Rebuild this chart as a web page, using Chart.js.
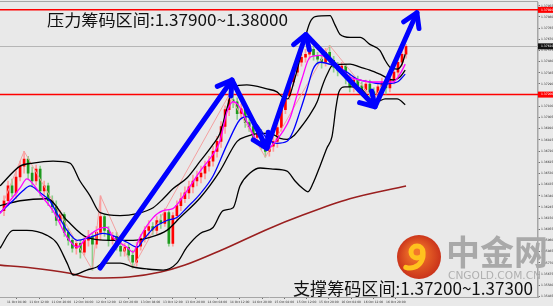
<!DOCTYPE html>
<html>
<head>
<meta charset="utf-8">
<script src="https://cdn.jsdelivr.net/npm/chart.js@4.4.0/dist/chart.umd.min.js"></script>
<style>
  html, body { margin: 0; padding: 0; background: #e9e9e9; }
  canvas { display: block; }
</style>
</head>
<body>
<canvas id="chart" width="553" height="306"></canvas>
<script>
// candles, one per bar
const openP = [1.36214, 1.36298, 1.36424, 1.36365, 1.36500, 1.36592, 1.36651, 1.36533, 1.36466, 1.36567,
  1.36382, 1.36424, 1.36298, 1.36248, 1.36130, 1.36180, 1.36029, 1.35962, 1.35894, 1.35936,
  1.35861, 1.35962, 1.35995, 1.35928, 1.36029, 1.36163, 1.36046, 1.35962, 1.35995, 1.35911,
  1.35869, 1.35903, 1.35835, 1.35777, 1.35911, 1.35978, 1.36046, 1.36079, 1.36046, 1.36130,
  1.36105, 1.36197, 1.35936, 1.36172, 1.36256, 1.36315, 1.36365, 1.36416, 1.36466, 1.36500,
  1.36533, 1.36592, 1.36634, 1.36718, 1.36803, 1.36929, 1.37072, 1.37156, 1.37139, 1.37038,
  1.37080, 1.36962, 1.36929, 1.36836, 1.36870, 1.36777, 1.36718, 1.36761, 1.36803, 1.36920,
  1.37072, 1.37189, 1.37307, 1.37391, 1.37475, 1.37517, 1.37543, 1.37585, 1.37534, 1.37501,
  1.37475, 1.37559, 1.37492, 1.37433, 1.37408, 1.37442, 1.37341, 1.37265, 1.37324, 1.37274,
  1.37240, 1.37290, 1.37223, 1.37198, 1.37265, 1.37307, 1.37257, 1.37324, 1.37391, 1.37475,
  1.37543];
const highP = [1.36340, 1.36466, 1.36483, 1.36550, 1.36634, 1.36718, 1.36676, 1.36584, 1.36601, 1.36592,
  1.36466, 1.36449, 1.36340, 1.36298, 1.36214, 1.36197, 1.36063, 1.35995, 1.35962, 1.35962,
  1.35995, 1.36046, 1.36029, 1.36079, 1.36340, 1.36180, 1.36079, 1.36029, 1.36029, 1.35962,
  1.35936, 1.35928, 1.35877, 1.35945, 1.36012, 1.36079, 1.36130, 1.36113, 1.36163, 1.36180,
  1.36231, 1.36214, 1.36197, 1.36298, 1.36365, 1.36416, 1.36466, 1.36517, 1.36550, 1.36592,
  1.36634, 1.36676, 1.36761, 1.36845, 1.36971, 1.37105, 1.37198, 1.37198, 1.37173, 1.37122,
  1.37105, 1.37004, 1.36971, 1.36904, 1.36904, 1.36819, 1.36803, 1.36845, 1.36954, 1.37105,
  1.37223, 1.37341, 1.37425, 1.37509, 1.37559, 1.37585, 1.37618, 1.37610, 1.37559, 1.37543,
  1.37593, 1.37618, 1.37526, 1.37475, 1.37475, 1.37459, 1.37374, 1.37358, 1.37358, 1.37307,
  1.37324, 1.37324, 1.37257, 1.37290, 1.37341, 1.37341, 1.37358, 1.37425, 1.37509, 1.37576,
  1.37627];
const lowP = [1.36172, 1.36256, 1.36332, 1.36315, 1.36466, 1.36533, 1.36483, 1.36416, 1.36433, 1.36340,
  1.36315, 1.36256, 1.36197, 1.36088, 1.36096, 1.35995, 1.35920, 1.35861, 1.35844, 1.35810,
  1.35835, 1.35911, 1.35709, 1.35894, 1.35962, 1.35995, 1.35911, 1.35928, 1.35877, 1.35827,
  1.35827, 1.35793, 1.35726, 1.35743, 1.35877, 1.35945, 1.35995, 1.36012, 1.36012, 1.36063,
  1.36079, 1.35911, 1.35911, 1.36130, 1.36214, 1.36281, 1.36315, 1.36365, 1.36424, 1.36449,
  1.36483, 1.36550, 1.36592, 1.36668, 1.36752, 1.36870, 1.37021, 1.37089, 1.36988, 1.37004,
  1.36920, 1.36887, 1.36803, 1.36794, 1.36735, 1.36668, 1.36676, 1.36718, 1.36752, 1.36887,
  1.37038, 1.37156, 1.37274, 1.37358, 1.37442, 1.37475, 1.37501, 1.37492, 1.37459, 1.37425,
  1.37442, 1.37459, 1.37391, 1.37358, 1.37374, 1.37290, 1.37223, 1.37223, 1.37223, 1.37189,
  1.37206, 1.37181, 1.37156, 1.37164, 1.37223, 1.37206, 1.37223, 1.37290, 1.37358, 1.37442,
  1.37509];
const closeP = [1.36298, 1.36424, 1.36365, 1.36500, 1.36592, 1.36651, 1.36533, 1.36466, 1.36567, 1.36382,
  1.36424, 1.36298, 1.36248, 1.36130, 1.36180, 1.36029, 1.35962, 1.35894, 1.35936, 1.35861,
  1.35962, 1.35995, 1.35928, 1.36029, 1.36163, 1.36046, 1.35962, 1.35995, 1.35911, 1.35869,
  1.35903, 1.35835, 1.35777, 1.35911, 1.35978, 1.36046, 1.36079, 1.36046, 1.36130, 1.36105,
  1.36197, 1.35936, 1.36172, 1.36256, 1.36315, 1.36365, 1.36416, 1.36466, 1.36500, 1.36533,
  1.36592, 1.36634, 1.36718, 1.36803, 1.36929, 1.37072, 1.37156, 1.37139, 1.37038, 1.37080,
  1.36962, 1.36929, 1.36836, 1.36870, 1.36777, 1.36718, 1.36761, 1.36803, 1.36920, 1.37072,
  1.37189, 1.37307, 1.37391, 1.37475, 1.37517, 1.37543, 1.37585, 1.37534, 1.37501, 1.37475,
  1.37559, 1.37492, 1.37433, 1.37408, 1.37442, 1.37341, 1.37265, 1.37324, 1.37274, 1.37240,
  1.37290, 1.37223, 1.37198, 1.37265, 1.37307, 1.37257, 1.37324, 1.37391, 1.37475, 1.37543,
  1.37610];

// indicator lines, [bar index, price]
const upperBand = [[-1, 1.36424], [4, 1.36592], [7.2, 1.36618], [12.2, 1.36634], [16.4, 1.36618], [18.9, 1.36466],
  [21.4, 1.36340], [23.9, 1.36197], [28.9, 1.36172], [33.1, 1.36189], [37.1, 1.36239], [39.6, 1.36315],
  [42, 1.36399], [45.5, 1.36491], [48.8, 1.36634], [52, 1.36777], [53.7, 1.36870], [55.7, 1.37114],
  [57, 1.37265], [60.4, 1.37282], [65.4, 1.37248], [67.9, 1.37223], [69.2, 1.37181], [70.6, 1.37164],
  [72.1, 1.37307], [73.4, 1.37475], [74.6, 1.37644], [76.1, 1.37812], [77.4, 1.37862], [81.1, 1.37871],
  [82.3, 1.37795], [83.6, 1.37711], [86.1, 1.37686], [88.6, 1.37686], [91, 1.37627], [93.5, 1.37576],
  [94.8, 1.37492], [96, 1.37433], [97.8, 1.37417], [99, 1.37459], [99.8, 1.37543]];
const middleBand = [[-1, 1.36256], [4, 1.36298], [10.7, 1.36315], [15.7, 1.36130], [20.6, 1.35987], [26.4, 1.35962],
  [32.1, 1.35962], [36.3, 1.35987], [40.5, 1.36046], [43.8, 1.36155], [48.8, 1.36323], [53.7, 1.36550],
  [58, 1.36803], [60.4, 1.36845], [63.7, 1.36870], [66.2, 1.36870], [68.7, 1.36828], [70.4, 1.36819],
  [71.9, 1.36845], [73.6, 1.36912], [76.1, 1.37030], [77.9, 1.37139], [79.1, 1.37265], [80.3, 1.37366],
  [81.8, 1.37450], [86.1, 1.37459], [88.6, 1.37433], [91, 1.37408], [93.5, 1.37374], [96.8, 1.37324],
  [98.5, 1.37349], [99.8, 1.37408]];
const lowerBand = [[-1, 1.35894], [2.2, 1.36046], [5.7, 1.36046], [10.7, 1.36004], [13.2, 1.35936], [15.7, 1.35768],
  [17.2, 1.35667], [20.6, 1.35709], [23.1, 1.35735], [24.6, 1.35768], [28.9, 1.35768], [32.1, 1.35735],
  [35.6, 1.35718], [39.6, 1.35709], [43, 1.35768], [45.5, 1.35903], [48.8, 1.36020], [52, 1.36071],
  [54.5, 1.36214], [57, 1.36239], [58.7, 1.36424], [61.2, 1.36533], [63.7, 1.36576], [66.9, 1.36567],
  [70.4, 1.36550], [72.4, 1.36466], [74.4, 1.36399], [75.6, 1.36374], [76.9, 1.36449], [78.6, 1.36592],
  [80.3, 1.36744], [81.6, 1.36845], [82.6, 1.37097], [83.3, 1.37223], [84.8, 1.37265], [86.8, 1.37265],
  [89.1, 1.37240], [91, 1.37164], [92.8, 1.37139], [94.8, 1.37164], [97.8, 1.37164], [99.8, 1.37114]];
const fastMA = [[-1, 1.36189], [1.5, 1.36298], [4, 1.36407], [5.7, 1.36483], [7.2, 1.36441], [9.7, 1.36323],
  [12.2, 1.36214], [15.7, 1.35987], [18.2, 1.35903], [20.6, 1.35987], [23.9, 1.36063], [25.6, 1.36071],
  [27.1, 1.35987], [30.6, 1.35903], [32.1, 1.35861], [33.8, 1.35987], [37.1, 1.36155], [39.6, 1.36214],
  [42, 1.36231], [45.5, 1.36382], [48.8, 1.36550], [52, 1.36693], [53.7, 1.36803], [55.5, 1.37055],
  [57, 1.37139], [58.2, 1.37114], [60.4, 1.36971], [62.9, 1.36803], [65.4, 1.36735], [66.9, 1.36777],
  [69.4, 1.36887], [71.1, 1.36996], [72.9, 1.37198], [74.1, 1.37332], [76.1, 1.37517], [78.6, 1.37534],
  [81.1, 1.37501], [83.6, 1.37433], [86.1, 1.37349], [88.6, 1.37324], [91, 1.37307], [93.5, 1.37307],
  [96.8, 1.37307], [98.5, 1.37374], [99.8, 1.37459]];
const slowMA = [[-1, 1.36197], [2.2, 1.36298], [4.7, 1.36382], [6.5, 1.36424], [9, 1.36365], [11.4, 1.36298],
  [13.2, 1.36189], [15.7, 1.36046], [18.2, 1.35962], [21.4, 1.35987], [24.6, 1.36020], [28.1, 1.35987],
  [30.6, 1.35945], [33.1, 1.35903], [34.6, 1.35962], [37.1, 1.36063], [40.5, 1.36130], [43, 1.36155],
  [45.5, 1.36239], [48.8, 1.36357], [52, 1.36508], [55.5, 1.36777], [58.7, 1.36988], [60.4, 1.37013],
  [62.9, 1.36946], [65.4, 1.36828], [67.9, 1.36786], [70.4, 1.36803], [71.9, 1.36887], [73.6, 1.37055],
  [75.4, 1.37248], [76.9, 1.37417], [78.6, 1.37475], [81.8, 1.37450], [85.3, 1.37391], [87.8, 1.37332],
  [91, 1.37307], [94.3, 1.37290], [97.8, 1.37307], [99.8, 1.37374]];
const longMA = [[-1, 1.35751], [7, 1.35726], [16, 1.35684], [22, 1.35642], [31, 1.35650], [39, 1.35692],
  [45, 1.35751], [54, 1.35877], [66, 1.36063], [74, 1.36172], [86, 1.36315], [100, 1.36424]];
const zigzag = [[0, 1.36298], [5, 1.36718], [22, 1.35709], [24, 1.36340], [32, 1.35726], [56, 1.37198],
  [65, 1.36668], [81, 1.37618], [92, 1.37156], [100, 1.37627]];

// hand-drawn arrows, [bar index, price]
const arrowPath = [[23.9, 1.35726], [56.7, 1.37324], [65.4, 1.36744], [75.1, 1.37711], [92.3, 1.37097], [102.7, 1.37896]];

// horizontal levels
const redLevels = [1.37920, 1.37200];
const lastPrice = closeP[closeP.length - 1];

// axis ticks
const yTicks = [1.37955, 1.37860, 1.37765, 1.37670, 1.37575, 1.37480, 1.37385, 1.37290, 1.37195,
  1.37100, 1.37005, 1.36910, 1.36815, 1.36720, 1.36625, 1.36530, 1.36435, 1.36340, 1.36245,
  1.36150, 1.36055, 1.35960, 1.35865, 1.35770, 1.35675, 1.35580, 1.35485];
const xTickLabels = ['11 Oct 04:00', '11 Oct 12:00', '11 Oct 20:00', '12 Oct 04:00', '12 Oct 12:00',
  '12 Oct 20:00', '13 Oct 04:00', '13 Oct 12:00', '13 Oct 20:00', '14 Oct 04:00', '14 Oct 12:00',
  '14 Oct 20:00', '15 Oct 04:00', '15 Oct 12:00', '15 Oct 20:00', '16 Oct 04:00', '16 Oct 12:00',
  '16 Oct 20:00'];
const xTickFirst = 3.16;
const xTickStep = 5.547;

const topText = '压力筹码区间:1.37900~1.38000';
const bottomText = '支撑筹码区间:1.37200~1.37300';

const UP = '#ff0000', DOWN = '#1d9a1d';
const UP_WICK = '#ff9d9d', DOWN_WICK = '#8dcf8d';

const isUp = closeP.map((c, i) => c >= openP[i]);
const pts = arr => arr.map(([x, y]) => ({ x, y }));

const line = (data, color, width, order) => ({
  type: 'line', data: pts(data), borderColor: color, borderWidth: width,
  pointRadius: 0, fill: false, cubicInterpolationMode: 'monotone', order
});

function fitText(ctx, str, x, base, width, font) {
  ctx.font = font;
  const w = ctx.measureText(str).width;
  ctx.save();
  ctx.translate(x, base);
  ctx.scale(width / w, 1);
  ctx.fillText(str, 0, 0);
  ctx.restore();
}

const overlay = {
  id: 'overlay',
  beforeDatasetsDraw(chart) {
    const { ctx, chartArea: a, scales: { y } } = chart;
    ctx.save();
    ctx.lineWidth = 1;
    ctx.strokeStyle = '#a6a6a6';
    ctx.beginPath(); ctx.moveTo(a.left, 1.5); ctx.lineTo(a.right, 1.5); ctx.stroke();
    const yc = Math.round(y.getPixelForValue(lastPrice)) + 0.5;
    ctx.strokeStyle = '#b6b6b6';
    ctx.beginPath(); ctx.moveTo(a.left, yc); ctx.lineTo(a.right, yc); ctx.stroke();
    ctx.strokeStyle = '#ff0000';
    ctx.lineWidth = 1.5;
    redLevels.forEach(v => {
      const py = y.getPixelForValue(v);
      ctx.beginPath(); ctx.moveTo(a.left, py); ctx.lineTo(a.right, py); ctx.stroke();
    });
    ctx.restore();
  },
  afterDraw(chart) {
    const { ctx, chartArea: a, scales: { y } } = chart;
    ctx.save();

    // price boxes on the axis
    const box = (v, bg) => {
      const py = y.getPixelForValue(v);
      ctx.fillStyle = bg;
      ctx.fillRect(a.right, py - 3, 553 - a.right, 6);
      ctx.fillStyle = '#ffffff';
      ctx.font = '3px "DejaVu Sans"';
      ctx.textBaseline = 'middle';
      ctx.fillText(v.toFixed(5), a.right + 3, py);
    };
    redLevels.forEach(v => box(v, '#ff0000'));
    box(lastPrice, '#111111');

    // arrow heads
    const p = chart.getDatasetMeta(0).data;
    ctx.strokeStyle = '#0000ff';
    ctx.lineWidth = 5;
    ctx.lineCap = 'round';
    ctx.lineJoin = 'round';
    for (let k = 1; k < p.length; k++) {
      const ang = Math.atan2(p[k].y - p[k - 1].y, p[k].x - p[k - 1].x);
      ctx.beginPath();
      ctx.moveTo(p[k].x - 16 * Math.cos(ang - 0.55), p[k].y - 16 * Math.sin(ang - 0.55));
      ctx.lineTo(p[k].x, p[k].y);
      ctx.lineTo(p[k].x - 16 * Math.cos(ang + 0.55), p[k].y - 16 * Math.sin(ang + 0.55));
      ctx.stroke();
    }

    // logo watermark
    const g = ctx.createRadialGradient(416, 252, 4, 419, 257, 23);
    g.addColorStop(0, '#f3772a');
    g.addColorStop(1, '#c8301a');
    ctx.fillStyle = g;
    ctx.beginPath(); ctx.arc(419, 257, 22, 0, Math.PI * 2); ctx.fill();
    ctx.strokeStyle = '#ffc21e';
    ctx.lineWidth = 5;
    ctx.lineCap = 'round';
    ctx.beginPath(); ctx.arc(417, 252, 6, 0, Math.PI * 2); ctx.stroke();
    ctx.beginPath(); ctx.arc(410, 255, 13, -0.3, 1.9); ctx.stroke();
    ctx.fillStyle = '#a9a9a9';
    ctx.font = 'bold 34px "Noto Sans CJK SC"';
    ctx.textBaseline = 'alphabetic';
    ctx.fillText('中金网', 446, 265);
    ctx.fillStyle = '#b0b0b0';
    fitText(ctx, 'CNGOLD.COM.CN', 448, 279, 93, '10px "DejaVu Sans"');

    // annotations
    ctx.fillStyle = '#111111';
    fitText(ctx, topText, 47, 26, 241, '16px "Noto Sans CJK SC"');
    fitText(ctx, bottomText, 293, 295, 240, '17px "Noto Sans CJK SC"');
    ctx.restore();
  }
};

new Chart(document.getElementById('chart'), {
  type: 'bar',
  data: {
    datasets: [
      {
        type: 'line', data: pts(arrowPath), borderColor: '#0000ff', borderWidth: 5,
        pointRadius: 0, tension: 0, borderJoinStyle: 'round', borderCapStyle: 'round', order: 0
      },
      line(fastMA, '#ff00ff', 1.3, 1),
      line(slowMA, '#0000ff', 1.3, 2),
      line(upperBand, '#000000', 1.3, 3),
      line(middleBand, '#000000', 1.3, 3),
      line(lowerBand, '#000000', 1.3, 3),
      line(longMA, '#9a1f1f', 1.6, 4),
      { ...line(zigzag, '#f3a0a0', 1, 5), cubicInterpolationMode: 'default', tension: 0 },
      {
        data: closeP.map((c, i) => ({ x: i, y: [openP[i], c] })),
        backgroundColor: isUp.map(u => u ? UP : DOWN),
        barThickness: 2, grouped: false, order: 6
      },
      {
        data: closeP.map((c, i) => ({ x: i, y: [lowP[i], highP[i]] })),
        backgroundColor: isUp.map(u => u ? UP_WICK : DOWN_WICK),
        barThickness: 1, grouped: false, order: 7
      }
    ]
  },
  options: {
    responsive: false,
    animation: false,
    layout: { padding: 0, autoPadding: false },
    plugins: { legend: { display: false }, tooltip: { enabled: false } },
    scales: {
      x: {
        type: 'linear', min: -0.995, max: 132.83, offset: false,
        grid: { display: true, drawOnChartArea: false, offset: false, tickLength: 2, color: '#707070' },
        border: { display: true, color: '#a6a6a6', width: 1 },
        afterBuildTicks: s => { s.ticks = xTickLabels.map((_, k) => ({ value: xTickFirst + k * xTickStep })); },
        afterFit: s => { s.height = 9; },
        ticks: {
          autoSkip: false, maxRotation: 0, padding: 1, color: '#333333',
          font: { size: 3, family: 'DejaVu Sans' },
          callback: (v, k) => xTickLabels[k]
        }
      },
      y: {
        position: 'right', min: 1.35480, max: 1.37980,
        grid: { display: true, drawOnChartArea: false, tickLength: 2, color: '#707070' },
        border: { display: true, color: '#a6a6a6', width: 1.5 },
        afterBuildTicks: s => { s.ticks = yTicks.map(v => ({ value: v })); },
        afterFit: s => { s.width = 15; },
        ticks: {
          autoSkip: false, padding: 1, color: '#333333',
          font: { size: 3, family: 'DejaVu Sans' },
          callback: v => v.toFixed(5)
        }
      }
    }
  },
  plugins: [overlay]
});
</script>
</body>
</html>
